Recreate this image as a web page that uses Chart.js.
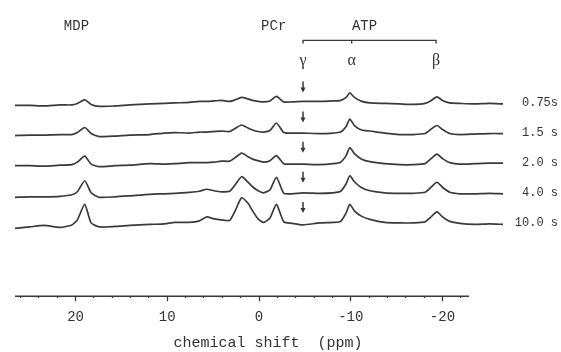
<!DOCTYPE html>
<html>
<head>
<meta charset="utf-8">
<script src="https://cdn.jsdelivr.net/npm/chart.js@4.4.1/dist/chart.umd.min.js"></script>
<style>
  html, body { margin: 0; padding: 0; background: #fff; }
  #spectra { display: block; }
</style>
</head>
<body>
<canvas id="spectra" width="561" height="352"></canvas>
<script>
// chemical shift of the sampled points (ppm), left to right
const ppm = [26.6, 25.0, 23.4, 21.7, 20.4, 19.8, 19.0, 18.3, 17.4, 15.7, 14.1, 11.9, 10.3, 9.2, 7.6, 6.5, 5.7, 4.9, 4.1, 3.2,
             2.6, 1.9, 1.2, 0.7, 0.1, -0.5, -1.2, -1.9, -2.7, -3.6, -4.8, -6.6, -8.1, -8.9, -9.5, -9.9, -10.4, -11.2, -12.1, -13.7,
             -15.3, -16.8, -18.1, -18.7, -19.4, -20.0, -20.8, -21.9, -23.5, -25.1, -26.6];

// signal for each repetition delay (arbitrary units)
const s075 = [-2, -2, -2.5, -1.5, -1.5, 0, 3.5, -1, -3, -2.5, -1.5, -0.5, 0, 0.5, 1, 2, 2, 2.5, 3, 2,
              3.5, 6, 4.5, 3, 2, 1.5, 2.5, 7, 1.5, 1.5, 2, 2, 2.5, 3, 6, 10.5, 6, 2, 0.5, 0,
              -0.5, -1, 0, 2.5, 6.5, 3, 0.5, 0, -0.5, 0, -0.5];
const s15 = [-2, -1.5, -1.5, -1, -1, 1, 6, 0, -3, -2.5, -1.5, -1, 0.5, 1, 0.5, 1.5, 1.5, 2, 2.5, 2,
             5, 8.5, 5.5, 3.5, 2, 1.5, 3, 10.5, 1, 0.5, 0.5, 0, 0.5, 1.5, 7, 14.5, 8, 3.5, 2.5, 0.5,
             -1, -1, 0, 4, 8, 4, 0, -1, -0.5, 0, 0];
const s20 = [-2, -2, -2.5, -1.5, -1, 1.5, 7.5, -0.5, -3, -2, -1.5, 0, -0.5, 0, 1, 1, 1, 1.5, 2.5, 2.5,
             6, 10.5, 7, 4.5, 3, 1.5, 3, 8, 0, -0.5, -0.5, -1, 0, 1.5, 8, 16, 10, 4.5, 2, 0,
             -1, -1, 0, 4.5, 9.5, 5, 1, -0.5, 0, 0.5, 0.5];
const s40 = [-3.5, -3, -3, -2.5, -1, 2, 13, 1, -3.5, -3, -2, -0.5, 0, 0.5, 1.5, 2.5, 4.5, 3, 2, 2.5,
             9, 17, 11.5, 7, 3, 1, 4, 16.5, 0.5, 0, 1, 0.5, 1, 2.5, 10, 18, 12, 6, 3, 1,
             0.5, 0.5, 1.5, 6, 11.5, 6.5, 1.5, 0, 0, 0.5, 0];
const s100 = [-4.5, -3, -1.5, -3.5, -1, 4, 19.5, 1, -3, -2.5, -1.5, -0.5, 0, 1.5, 1.5, 3, 7, 5, 4, 3.5,
              13, 26, 20.5, 13, 5, 1.5, 6, 19.5, 2, 0.5, -1, 1, 1.5, 2.5, 11, 19.5, 13, 7.5, 4.5, 1.5,
              1, 1, 2, 6.5, 12, 7, 2.5, 0.5, -0.5, 0, -0.5];

const delays = ['0.75s', '1.5 s', '2.0 s', '4.0 s', '10.0 s'];
const series = [s075, s15, s20, s40, s100];

// x axis
const tickLabels = [20, 10, 0, -10, -20];
const minorStep = 2;
const axisFrom = 26.6, axisTo = -22.9;

// peak labels
const peakNames = ['MDP', 'PCr', 'ATP'];
const peakNamePpm = [19.9, -1.6, -11.5];
const atpNames = ['\u03b3', '\u03b1', '\u03b2'];
const atpPpm = [-4.8, -10.1, -19.3];

// stacking
const topBaseline = 192;
const traceGap = 30;
const baseline = i => topBaseline - i * traceGap;

const ink = '#3a3a3a';

const datasets = series.map((s, i) => ({
  label: delays[i],
  data: ppm.map((p, j) => ({ x: p, y: baseline(i) + s[j] })),
  borderColor: ink,
  borderWidth: 1.7,
  pointRadius: 0,
  tension: 0.2,
  fill: false
}));

const decor = {
  id: 'decor',
  afterDatasetsDraw(chart) {
    const { ctx, chartArea } = chart;
    const x = chart.scales.x, y = chart.scales.y;
    ctx.save();
    ctx.strokeStyle = ink;
    ctx.fillStyle = '#333';

    // axis line, shorter than the traces
    ctx.lineWidth = 1.6;
    ctx.beginPath();
    ctx.moveTo(x.getPixelForValue(axisFrom), chartArea.bottom);
    ctx.lineTo(x.getPixelForValue(axisTo), chartArea.bottom);
    ctx.stroke();

    // delay labels on the right
    ctx.font = '12px "Liberation Mono"';
    ctx.textAlign = 'right';
    ctx.textBaseline = 'middle';
    delays.forEach((d, i) => {
      ctx.fillText(d, chart.width - 3, y.getPixelForValue(baseline(i)) - 1);
    });

    // arrows at the gamma-ATP position
    const gx = x.getPixelForValue(atpPpm[0]);
    delays.forEach((d, i) => {
      const b = y.getPixelForValue(baseline(i));
      ctx.lineWidth = 1.5;
      ctx.beginPath();
      ctx.moveTo(gx, b - 22);
      ctx.lineTo(gx, b - 15);
      ctx.stroke();
      ctx.beginPath();
      ctx.moveTo(gx - 2.5, b - 16);
      ctx.lineTo(gx + 2.5, b - 16);
      ctx.lineTo(gx, b - 11);
      ctx.closePath();
      ctx.fill();
    });

    const b1 = y.getPixelForValue(baseline(0));

    // peak names
    ctx.font = '14px "Liberation Mono"';
    ctx.textAlign = 'center';
    peakNames.forEach((n, i) => ctx.fillText(n, x.getPixelForValue(peakNamePpm[i]), b1 - 77));

    // ATP bracket
    const by = b1 - 63;
    const bx = atpPpm.map(p => x.getPixelForValue(p));
    ctx.lineWidth = 1.4;
    ctx.beginPath();
    ctx.moveTo(bx[0], by + 3);
    ctx.lineTo(bx[0], by);
    ctx.lineTo(bx[2], by);
    ctx.lineTo(bx[2], by + 3);
    ctx.moveTo(bx[1], by);
    ctx.lineTo(bx[1], by + 3);
    ctx.stroke();

    ctx.font = '16px "Liberation Serif"';
    atpNames.forEach((n, i) => ctx.fillText(n, bx[i], b1 - 43));
    ctx.restore();
  }
};

new Chart(document.getElementById('spectra'), {
  type: 'line',
  data: { datasets },
  options: {
    responsive: false,
    animation: false,
    devicePixelRatio: 1,
    layout: { padding: { left: 15, right: 58, top: 0, bottom: 0 } },
    plugins: { legend: { display: false }, tooltip: { enabled: false } },
    scales: {
      x: {
        type: 'linear',
        reverse: true,
        min: -26.6,
        max: 26.6,
        border: { display: false },
        grid: {
          drawOnChartArea: false,
          drawTicks: true,
          tickLength: 5,
          tickWidth: 1.3,
          tickColor: ink,
          tickBorderDash: ctx => (ctx.tick && tickLabels.includes(ctx.tick.value)) ? [] : [2, 20]
        },
        afterBuildTicks: axis => {
          const t = [];
          for (let v = 26; v >= -22; v -= minorStep) t.push({ value: v });
          axis.ticks = t.reverse();
        },
        ticks: {
          autoSkip: false,
          maxRotation: 0,
          padding: 8,
          color: '#333',
          font: { family: '"Liberation Mono"', size: 14 },
          callback: v => tickLabels.includes(v) ? String(v) : ''
        },
        title: {
          display: true,
          text: '  chemical shift  (ppm)',
          color: '#333',
          font: { family: '"Liberation Mono"', size: 15 },
          padding: { top: 0, bottom: 0 }
        }
      },
      y: {
        display: false,
        min: 0,
        max: 295
      }
    }
  },
  plugins: [decor]
});
</script>
</body>
</html>
